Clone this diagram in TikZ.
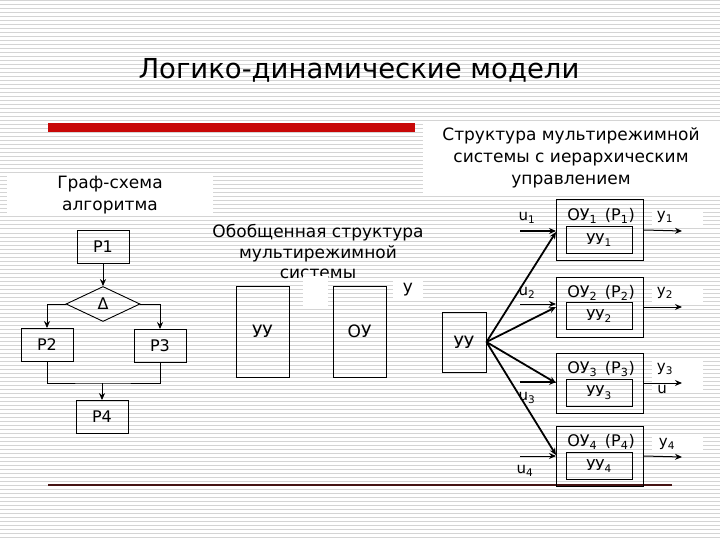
\documentclass[tikz,border=0pt]{standalone}
\usepackage{fontspec}
\setmainfont{DejaVu Sans}
\usetikzlibrary{arrows.meta, shapes.geometric}
\definecolor{slidered}{RGB}{200,8,8}
\definecolor{stripegray}{RGB}{212,212,212}
\definecolor{ruledark}{RGB}{70,20,20}
\tikzset{
  blk/.style={draw=black, line width=0.9pt, minimum width=52pt, minimum height=33pt,
              inner sep=0pt, font=\fontsize{16}{19}\selectfont},
  dia/.style={diamond, draw=black, line width=0.9pt, minimum width=74pt, minimum height=35pt,
              inner sep=0pt, font=\fontsize{16}{19}\selectfont},
  tall/.style={draw=black, line width=0.9pt, minimum width=53pt, minimum height=91pt,
               inner sep=0pt, font=\fontsize{17}{20}\selectfont},
  obox/.style={draw=black, line width=1pt, minimum width=87pt, minimum height=60pt, inner sep=0pt},
  ibox/.style={draw=black, line width=1pt, minimum width=66pt, minimum height=27pt,
               inner sep=0pt, font=\fontsize{15}{18}\selectfont},
  caption/.style={align=center, font=\fontsize{17}{22}\selectfont, inner sep=0pt},
  patch/.style={fill=white, inner sep=0pt},
  lbl/.style={font=\fontsize{15}{18}\selectfont, inner sep=0pt},
  arr/.style={-{Stealth[length=7pt, width=6pt]}, line width=1pt},
  arrthick/.style={arr, line width=1.8pt},
}
\begin{document}
\begin{tikzpicture}[x=1pt, y=-1pt]
\useasboundingbox (0,0) rectangle (720,540);

% --- background stripes ---
\fill[white] (0,0) rectangle (720,540);
\foreach \s in {1,5,...,537}
  \draw[stripegray, line width=1pt] (0,\s) -- (720,\s);

% --- title and rules ---
\node[font=\fontsize{27.5}{32}\selectfont, inner sep=0pt] (title) at (359,70) {Логико-динамические модели};
\fill[slidered] (48,123) rectangle (415,132);
\draw[ruledark, line width=1.2pt] (48,485) -- (672,485);

% --- left: flow chart ---
\node[caption, fill=white, minimum width=206pt, minimum height=40pt] (gsa) at (110,195)
    {Граф-схема\\алгоритма};
\node[blk] (p1) at (103,247) {P1};
\node[dia] (delta) at (103,304) {Δ};
\node[blk] (p2) at (47,345) {P2};
\node[blk] (p3) at (160,346) {P3};
\node[blk] (p4) at (102,417) {P4};
\coordinate (join) at (102,383);

\draw[arr] (p1.south) -- (delta.north);
\draw[arr] (delta.west) -| (p2.north);
\draw[arr] (delta.east) -| (p3.north);
\draw[line width=0.9pt] (p2.south) |- (join) -| (p3.south);
\draw[arr] (join) -- (p4.north);

% --- middle: generalised structure ---
\node[caption, font=\fontsize{17}{20.5}\selectfont] (gen) at (318,252)
    {Обобщенная структура\\мультирежимной\\системы};
\fill[white] (303,276) rectangle (328,307);
\node[lbl, patch, font=\fontsize{17}{20}\selectfont, minimum width=30pt, minimum height=20pt]
    (ylab) at (408,290) {у};
\node[tall] (uu) at (262.5,331.5) {УУ};
\node[tall] (ou) at (359.5,331.5) {ОУ};

% --- right: hierarchical structure ---
\node[caption, fill=white, minimum width=297pt, minimum height=70pt] (hdr) at (571,158)
    {Структура мультирежимной\\системы с иерархическим\\управлением};
\node[tall, minimum width=44pt, minimum height=60pt] (top) at (464,342) {УУ};

\node[obox] (ou1) at (600,230) {};
\node[ibox] (uu1) at (599,240) {УУ\textsubscript{1}};
\node[lbl, font=\fontsize{16}{18}\selectfont] (ou1t) at (601,216) {ОУ\textsubscript{1}\, (Р\textsubscript{1})};
\node[obox] (ou2) at (600,307) {};
\node[ibox] (uu2) at (599,316) {УУ\textsubscript{2}};
\node[lbl, font=\fontsize{16}{18}\selectfont] (ou2t) at (601,293) {ОУ\textsubscript{2}\, (Р\textsubscript{2})};
\node[obox] (ou3) at (600,383) {};
\node[ibox] (uu3) at (599,393) {УУ\textsubscript{3}};
\node[lbl, font=\fontsize{16}{18}\selectfont] (ou3t) at (601,369) {ОУ\textsubscript{3}\, (Р\textsubscript{3})};
\node[obox] (ou4) at (600,456) {};
\node[ibox] (uu4) at (599,466) {УУ\textsubscript{4}};
\node[lbl, font=\fontsize{16}{18}\selectfont] (ou4t) at (601,442) {ОУ\textsubscript{4}\, (Р\textsubscript{4})};

% control links
\draw[arrthick] (top.east) -- ([yshift=-2pt]ou1.west);
\draw[arrthick] (top.east) -- (ou2.west);
\draw[arrthick] (top.east) -- (ou3.west);
\draw[arrthick] (top.east) -- ([yshift=1pt]ou4.west);

% inputs
\coordinate (u1in) at (520,231);
\coordinate (u2in) at (520,304);
\coordinate (u3in) at (520,382);
\coordinate (u4in) at (520,456);
\draw[arrthick] (u1in) -- (u1in -| ou1.west);
\draw[arr] (u2in) -- (u2in -| ou2.west);
\draw[arrthick] (u3in) -- (u3in -| ou3.west);
\draw[arr] (u4in) -- (u4in -| ou4.west);
\node[lbl] (u1) at (527,218) {u\textsubscript{1}};
\node[lbl] (u2) at (527,293) {u\textsubscript{2}};
\node[lbl] (u3) at (527,398) {u\textsubscript{3}};
\node[lbl] (u4) at (525,471) {u\textsubscript{4}};

% outputs
\coordinate (y1out) at (682,231);
\coordinate (y2out) at (682,307);
\coordinate (y3out) at (682,383);
\coordinate (y4out) at (682,457);
\node[patch, minimum width=51pt, minimum height=17pt] (y1bg) at (677,218) {};
\node[patch, minimum width=51pt, minimum height=16pt] (y2bg) at (677,295) {};
\node[patch, minimum width=51pt, minimum height=30pt] (y3bg) at (677,375) {};
\node[patch, minimum width=51pt, minimum height=16pt] (y4bg) at (677,445) {};
\draw[arr] (ou1.east) -- (y1out);
\draw[arr] (ou2.east) -- (y2out);
\draw[arr] (ou3.east) -- (y3out);
\draw[arr] (ou4.east) -- (y4out);
\node[lbl] (y1) at (665,217) {y\textsubscript{1}};
\node[lbl] (y2) at (665,293) {y\textsubscript{2}};
\node[lbl] (y3) at (665,369) {y\textsubscript{3}};
\node[lbl] (y3u) at (662,389) {u};
\node[lbl] (y4) at (667,444) {y\textsubscript{4}};

\end{tikzpicture}
\end{document}
